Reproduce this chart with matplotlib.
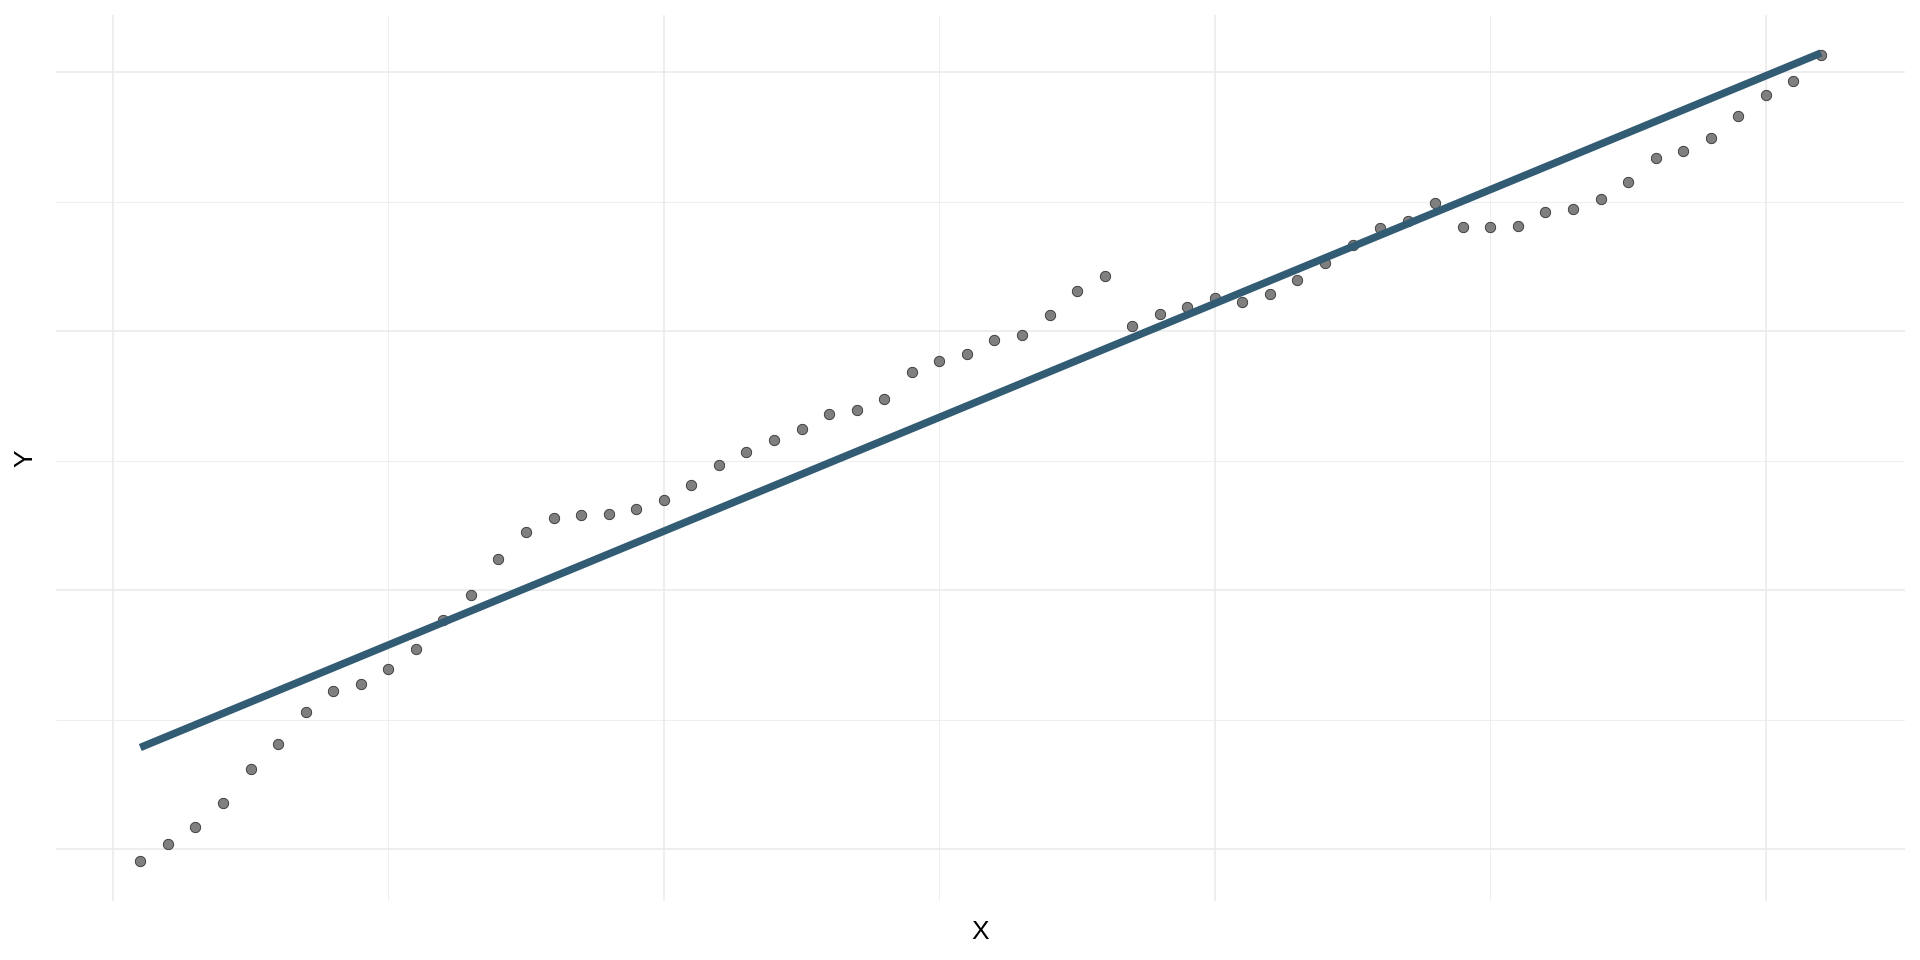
import numpy as np
import matplotlib
matplotlib.use("Agg")
import matplotlib.pyplot as plt

x_vals = list(range(1, 63))
y_vals = [-0.88, 0.39, 1.75, 3.61, 6.19, 8.12, 10.57, 12.2, 12.73, 13.9,
          15.44, 17.7, 19.6, 22.4, 24.46, 25.57, 25.8, 25.87, 26.3, 26.93,
          28.1, 29.65, 30.64, 31.57, 32.42, 33.58, 33.94, 34.74, 36.83, 37.73,
          38.27, 39.3, 39.69, 41.24, 43.09, 44.25, 40.39, 41.31, 41.86, 42.56,
          42.24, 42.88, 43.95, 45.23, 46.64, 47.95, 48.54, 49.87, 48.08, 48.08,
          48.15, 49.18, 49.46, 50.23, 51.49, 53.41, 53.92, 54.95, 56.64, 58.23,
          59.33, 61.33]
x_major = [0, 20, 40, 60]
x_minor = [10, 30, 50]
y_major = [0, 20, 40, 60]
y_minor = [10, 30, 50]

plt.rcParams['font.family'] = ['Liberation Sans', 'DejaVu Sans']

x = np.array(x_vals, dtype=float)
y = np.array(y_vals, dtype=float)

fig = plt.figure(figsize=(19.2, 9.6), dpi=100)
ax = fig.add_axes([0.0293, 0.0615, 0.9629, 0.9232])

for v in x_major:
    ax.axvline(v, color='#EBEBEB', lw=1.2, zorder=0)
for v in x_minor:
    ax.axvline(v, color='#EBEBEB', lw=0.6, zorder=0)
for v in y_major:
    ax.axhline(v, color='#EBEBEB', lw=1.2, zorder=0)
for v in y_minor:
    ax.axhline(v, color='#EBEBEB', lw=0.6, zorder=0)

ax.scatter(x, y, s=56, facecolor='#7f7f7f', edgecolor='#333333', linewidths=0.6, zorder=2)

slope, intercept = np.polyfit(x, y, 1)
xl = np.array([x.min(), x.max()])
ax.plot(xl, slope * xl + intercept, color='#325b74', lw=5.4, solid_capstyle='butt', zorder=3)

xr = x.max() - x.min()
yr = y.max() - y.min()
ax.set_xlim(x.min() - 0.05 * xr, x.max() + 0.05 * xr)
ax.set_ylim(y.min() - 0.05 * yr, y.max() + 0.05 * yr)

ax.set_xticks([])
ax.set_yticks([])
for s in ax.spines.values():
    s.set_visible(False)

fig.text(980 / 1920, 1 - 932 / 960, 'X', ha='center', va='center', fontsize=19, color='black')
fig.text(25 / 1920, 1 - 458 / 960, 'Y', ha='center', va='center', fontsize=19, rotation=90, color='black')

fig.savefig('out.png', dpi=100, facecolor='white')
